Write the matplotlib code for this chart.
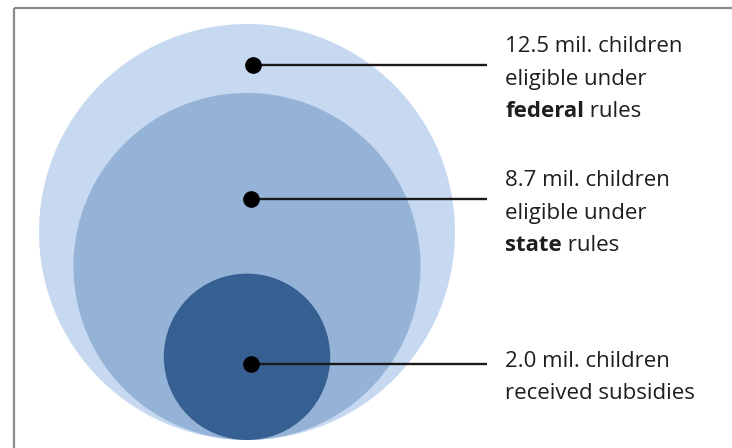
import numpy as np
import matplotlib.pyplot as plt
from matplotlib.patches import Circle, Rectangle

# children (millions) -- circle areas are proportional to these
values = [12.5, 8.7, 2.0]
colors = ["#C6D9F1", "#95B3D7", "#366092"]
labels = [
    ["12.5 mil. children", "eligible under", ("federal", " rules")],
    ["8.7 mil. children", "eligible under", ("state", " rules")],
    ["2.0 mil. children", "received subsidies"],
]

# pixel layout
cx = 247
bottom = 440
r_max = 208
dots = [(253, 65), (251, 199), (251, 364)]
line_end = 487
text_x = 505
baselines = [52, 186, 367]
line_gap = 32.5

fig = plt.figure(figsize=(7.32, 4.48), dpi=100)
ax = fig.add_axes([0, 0, 1, 1])
ax.set_xlim(0, 732)
ax.set_ylim(448, 0)
ax.set_aspect("equal")
ax.axis("off")

# frame
ax.add_patch(Rectangle((13.5, 8), 760, 460, fill=False, ec="#8c8c8c", lw=1.6))

for v, c in zip(values, colors):
    r = r_max * np.sqrt(v / values[0])
    ax.add_patch(Circle((cx, bottom - r), r, fc=c, ec="none"))

font = dict(family="Open Sans", fontsize=16, color="#1e1e1e")
renderer = fig.canvas.get_renderer()
for (dx, dy), lab, by in zip(dots, labels, baselines):
    ax.plot([dx, line_end], [dy, dy], color="#1a1a1a", lw=1.7, solid_capstyle="butt")
    ax.plot(dx, dy, "o", color="black", ms=11)
    for i, line in enumerate(lab):
        y = by + i * line_gap
        if isinstance(line, tuple):
            t = ax.text(text_x, y, line[0], va="baseline", ha="left", fontweight="bold", **font)
            w = t.get_window_extent(renderer).width
            ax.text(text_x + w, y, line[1], va="baseline", ha="left", **font)
        else:
            ax.text(text_x, y, line, va="baseline", ha="left", **font)

fig.savefig("out.png", dpi=100)
